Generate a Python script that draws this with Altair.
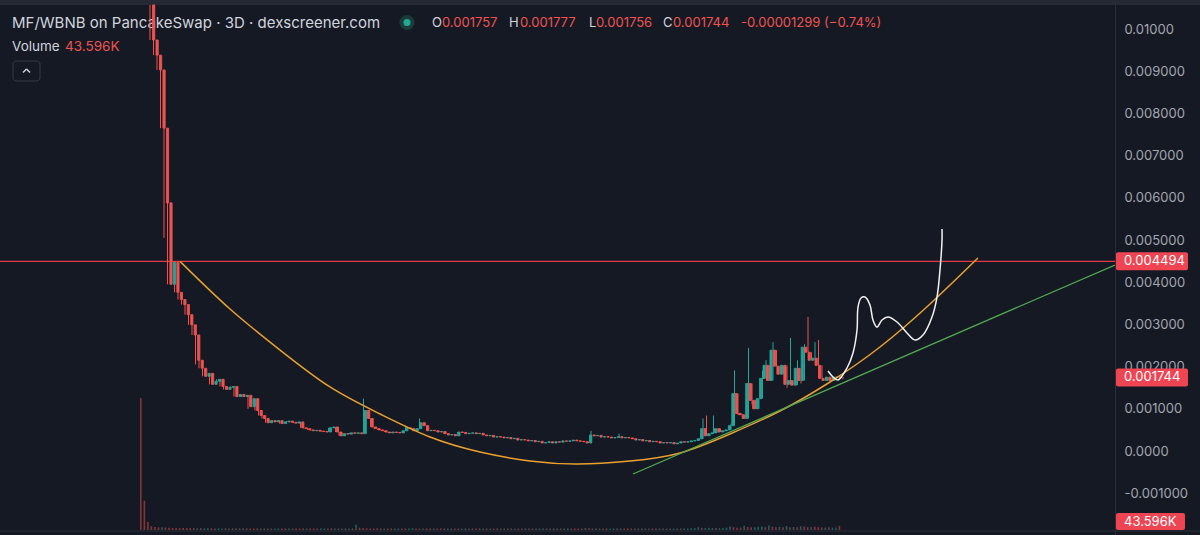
import altair as alt
import pandas as pd

# ---------------- data ----------------
closes = [0.00974, 0.00938, 0.00903, 0.00765, 0.00588, 0.00395, 0.00447, 0.00376, 0.00359, 0.00347,
          0.00323, 0.00299, 0.00275, 0.00215, 0.00196, 0.00177, 0.00184, 0.00158, 0.00165, 0.00170,
          0.00153, 0.00146, 0.00151, 0.00153, 0.00129, 0.00134, 0.00129, 0.00132, 0.00105, 0.00124,
          0.00096, 0.00084, 0.00077, 0.00067, 0.00072, 0.00069, 0.00072, 0.00065, 0.00069, 0.00071,
          0.00068, 0.00066, 0.00069, 0.00055, 0.00053, 0.00050, 0.00048, 0.00049, 0.00047, 0.00046,
          0.00045, 0.00055, 0.00057, 0.00045, 0.00036, 0.00041, 0.00040, 0.00043, 0.00042, 0.00043,
          0.00041, 0.00096, 0.00077, 0.00057, 0.00053, 0.00050, 0.00048, 0.00045, 0.00043, 0.00045,
          0.00044, 0.00043, 0.00048, 0.00055, 0.00053, 0.00048, 0.00053, 0.00067, 0.00060, 0.00048,
          0.00049, 0.00048, 0.00045, 0.00046, 0.00041, 0.00038, 0.00039, 0.00036, 0.00045, 0.00044,
          0.00041, 0.00042, 0.00043, 0.00041, 0.00042, 0.00038, 0.00036, 0.00037, 0.00033, 0.00034,
          0.00033, 0.00031, 0.00032, 0.00029, 0.00030, 0.00026, 0.00027, 0.00026, 0.00024, 0.00025,
          0.00022, 0.00023, 0.00019, 0.00020, 0.00022, 0.00019, 0.00022, 0.00021, 0.00024, 0.00023,
          0.00024, 0.00026, 0.00024, 0.00023, 0.00022, 0.00019, 0.00038, 0.00036, 0.00037, 0.00033,
          0.00034, 0.00033, 0.00031, 0.00032, 0.00034, 0.00031, 0.00032, 0.00031, 0.00029, 0.00026,
          0.00027, 0.00024, 0.00025, 0.00022, 0.00023, 0.00022, 0.00019, 0.00020, 0.00019, 0.00020,
          0.00017, 0.00019, 0.00022, 0.00021, 0.00022, 0.00024, 0.00025, 0.00029, 0.00053, 0.00036,
          0.00041, 0.00043, 0.00053, 0.00045, 0.00048, 0.00050, 0.00060, 0.00136, 0.00089, 0.00086,
          0.00077, 0.00160, 0.00120, 0.00100, 0.00124, 0.00172, 0.00203, 0.00167, 0.00239, 0.00201,
          0.00182, 0.00203, 0.00158, 0.00167, 0.00156, 0.00196, 0.00167, 0.00246, 0.00234, 0.00215,
          0.00220, 0.00203, 0.00172, 0.00167, 0.00175, 0.00167, 0.00175, 0.001757, 0.001744]
first_open = 0.01057

wick_high = {0: 0.01057, 6: 0.00449, 7: 0.004494, 61: 0.00124, 73: 0.00060, 77: 0.00077,
             126: 0.00048, 134: 0.00041, 158: 0.00077, 159: 0.00084, 161: 0.00084, 166: 0.00065,
             167: 0.00191, 171: 0.00244, 175: 0.00190, 176: 0.00215, 178: 0.00258, 183: 0.00268,
             185: 0.00215, 187: 0.00253, 188: 0.00318, 190: 0.00258, 191: 0.00263, 197: 0.001777}
wick_low = {4: 0.00505, 13: 0.00205, 28: 0.00100, 168: 0.00085, 172: 0.00110, 182: 0.00150,
            186: 0.00160, 198: 0.00170}

volumes_k = [1400, 310, 85, 40, 32, 28, 30, 26, 24, 22,
             22, 20, 21, 20, 19, 20, 18, 19, 18, 18,
             18, 17, 18, 17, 18, 17, 17, 18, 17, 18,
             17, 17, 16, 17, 16, 17, 16, 16, 17, 16,
             16, 17, 16, 16, 17, 16, 16, 16, 17, 16,
             16, 17, 16, 16, 17, 16, 16, 17, 16, 16,
             17, 55, 25, 20, 18, 17, 16, 17, 16, 16,
             16, 17, 16, 16, 17, 16, 17, 20, 17, 16,
             16, 17, 16, 16, 16, 17, 16, 16, 16, 17,
             16, 16, 17, 16, 16, 16, 17, 16, 16, 16,
             16, 17, 16, 16, 16, 17, 16, 16, 16, 17,
             16, 16, 16, 17, 16, 16, 16, 17, 16, 16,
             16, 17, 16, 16, 16, 17, 22, 18, 17, 16,
             16, 17, 16, 16, 17, 16, 16, 16, 17, 16,
             16, 16, 17, 16, 16, 16, 17, 16, 16, 16,
             17, 16, 16, 16, 17, 16, 18, 20, 30, 25,
             22, 24, 20, 21, 20, 22, 25, 38, 30, 24,
             25, 45, 32, 28, 30, 35, 38, 30, 48, 36,
             30, 34, 28, 42, 30, 32, 28, 40, 38, 30,
             32, 36, 30, 28, 26, 28, 25, 26, 43.596]

hline_price = 0.004494
last_price = 0.001744

orange_idx = [8.57, 22.86, 37.14, 51.43, 65.71, 80.0, 94.29, 108.57, 122.29, 137.14,
              151.43, 165.71, 180.0, 194.29, 208.57, 222.86, 236.57]
orange_price = [0.004494, 0.003365, 0.002393, 0.001517, 0.000877, 0.000332, -0.000024, -0.000237,
                -0.000308, -0.000237, -0.000047, 0.000403, 0.000948, 0.001635, 0.002464, 0.003483,
                0.004573]

green_idx = [138.0, 275.71]
green_price = [-0.000545, 0.004408]

white_idx = [193.71, 195.14, 196.57, 199.14, 200.86, 202.0, 202.29, 203.14, 204.29, 205.71,
             206.57, 207.71, 209.14, 210.86, 213.43, 216.29, 218.57, 220.86, 223.43, 224.86,
             225.71, 226.29, 226.29]
white_price = [0.001896, 0.001754, 0.001682, 0.001967, 0.002322, 0.002867, 0.003412, 0.003626,
               0.003649, 0.003460, 0.003104, 0.002938, 0.003104, 0.003175, 0.003057, 0.002796,
               0.002630, 0.002749, 0.003175, 0.003649, 0.004289, 0.005000, 0.005261]

axis_values = [0.01, 0.009, 0.008, 0.007, 0.006, 0.005, 0.004, 0.003, 0.002, 0.001, 0.0, -0.001]

# ---------------- style ----------------
BG = "#151924"
UP = "#26a69a"
DOWN = "#ef5350"
BOX = "#ef4452"
GRID = "#2a2e39"
TXT = "#d1d4dc"
AX = "#a3a6af"
FONT = "Inter"

W, H = 1115, 525
XMIN, XMAX = -42.857, 275.714
YMIN, YMAX = -0.001872, 0.010569
VOLMAX = 5568

xs = alt.Scale(domain=[XMIN, XMAX], nice=False, zero=False)
ys = alt.Scale(domain=[YMIN, YMAX], nice=False, zero=False)


def colr(ch=alt.Color):
    return ch("d:N", scale=alt.Scale(domain=["up", "down"], range=[UP, DOWN]), legend=None)


opens = [first_open] + closes[:-1]
rows = []
for i, c in enumerate(closes):
    o = opens[i]
    hi = max(o, c, wick_high.get(i, c))
    lo = min(o, c, wick_low.get(i, c))
    rows.append(dict(i=i, o=o, c=c, hi=hi, lo=lo, d="up" if c >= o else "down", vol=volumes_k[i]))
df = pd.DataFrame(rows)

base = alt.Chart(df)

yaxis = alt.Axis(orient="right", values=axis_values, ticks=False, grid=False, domain=False,
                 labelColor=AX, labelFontSize=13, labelFont=FONT, labelPadding=9,
                 labelOverlap=False, labelFlush=False, title=None,
                 labelExpr="datum.value == 0 ? '0.0000' : (datum.value > 0.0095 ? '0.01000' : "
                           "(datum.value < 0 ? '-' + format(-datum.value, '.6f') : format(datum.value, '.6f')))")

volume = base.transform_calculate(vx="datum.i * 1.0172 - 3.7").mark_bar(size=1.6, opacity=0.5).encode(
    x=alt.X("vx:Q", scale=xs, axis=None),
    y=alt.Y("vol:Q", scale=alt.Scale(domain=[0, VOLMAX], nice=False, zero=True), axis=None, stack=None),
    color=colr(),
)

wicks = base.mark_rule(strokeWidth=1).encode(
    x=alt.X("i:Q", scale=xs, axis=None),
    y=alt.Y("lo:Q", scale=ys, axis=yaxis),
    y2="hi:Q",
    color=colr(),
)

bodies = base.mark_bar(size=2.2, strokeWidth=0.9).encode(
    x=alt.X("i:Q", scale=xs, axis=None),
    y=alt.Y("o:Q", scale=ys, axis=None),
    y2="c:Q",
    color=colr(),
    stroke=colr(alt.Stroke),
)

hline = alt.Chart(pd.DataFrame({"p": [hline_price]})).mark_rule(color="#e23a48", strokeWidth=1.3).encode(
    y=alt.Y("p:Q", scale=ys, axis=None), x=alt.value(0), x2=alt.value(W))

orange = alt.Chart(pd.DataFrame({"x": orange_idx, "p": orange_price, "k": range(len(orange_idx))})).mark_line(
    color="#eaa02f", strokeWidth=1.5, interpolate="natural", clip=True).encode(
    x=alt.X("x:Q", scale=xs, axis=None), y=alt.Y("p:Q", scale=ys, axis=None), order="k:Q")

green = alt.Chart(pd.DataFrame({"x": green_idx, "p": green_price})).mark_line(
    color="#52a852", strokeWidth=1.3, clip=True).encode(
    x=alt.X("x:Q", scale=xs, axis=None), y=alt.Y("p:Q", scale=ys, axis=None))

white = alt.Chart(pd.DataFrame({"x": white_idx, "p": white_price, "k": range(len(white_idx))})).mark_line(
    color="#f2f2f2", strokeWidth=1.5, interpolate="catmull-rom", clip=True).encode(
    x=alt.X("x:Q", scale=xs, axis=None), y=alt.Y("p:Q", scale=ys, axis=None), order="k:Q")

box_df = pd.DataFrame({"p": [hline_price, last_price], "t": ["0.004494", "0.001744"]})
boxes = alt.Chart(box_df).mark_rect(color=BOX, yOffset=-9, y2Offset=9, cornerRadius=2).encode(
    y=alt.Y("p:Q", scale=ys, axis=None), y2="p:Q", x=alt.value(W + 1), x2=alt.value(W + 73))
box_txt = alt.Chart(box_df).mark_text(align="left", baseline="middle", color="white",
                                      fontSize=13, font=FONT).encode(
    y=alt.Y("p:Q", scale=ys, axis=None), x=alt.value(W + 9), text="t:N")

vol_box = alt.Chart(pd.DataFrame({"t": ["43.596K"]})).mark_rect(color=BOX, cornerRadius=2).encode(
    x=alt.value(W + 1), x2=alt.value(W + 70), y=alt.value(508), y2=alt.value(525))
vol_box_txt = alt.Chart(pd.DataFrame({"t": ["43.596K"]})).mark_text(
    align="left", baseline="middle", color="white", fontSize=13, font=FONT).encode(
    x=alt.value(W + 9), y=alt.value(516.5), text="t:N")

# frame pieces
top_strip = alt.Chart(pd.DataFrame({"a": [0]})).mark_rect(color="#252933").encode(
    x=alt.value(0), x2=alt.value(1200), y=alt.value(-5), y2=alt.value(0))
sep = alt.Chart(pd.DataFrame({"a": [0]})).mark_rule(color=GRID, strokeWidth=1).encode(
    x=alt.value(W + 0.5), y=alt.value(-5), y2=alt.value(530))
bottom = alt.Chart(pd.DataFrame({"a": [0]})).mark_rule(color=GRID, strokeWidth=1).encode(
    x=alt.value(0), x2=alt.value(1200), y=alt.value(526))

# header
hdr = pd.DataFrame([
    dict(px=12, py=17.5, t="MF/WBNB on PancakeSwap · 3D · dexscreener.com", col=TXT, fs=15),
    dict(px=432, py=17.5, t="O", col=TXT, fs=13),
    dict(px=442, py=17.5, t="0.001757", col=DOWN, fs=13),
    dict(px=509, py=17.5, t="H", col=TXT, fs=13),
    dict(px=520, py=17.5, t="0.001777", col=DOWN, fs=13),
    dict(px=589, py=17.5, t="L", col=TXT, fs=13),
    dict(px=596, py=17.5, t="0.001756", col=DOWN, fs=13),
    dict(px=663, py=17.5, t="C", col=TXT, fs=13),
    dict(px=673, py=17.5, t="0.001744", col=DOWN, fs=13),
    dict(px=741, py=17.5, t="-0.00001299 (−0.74%)", col=DOWN, fs=13),
    dict(px=12, py=41.5, t="Volume", col=TXT, fs=13.5),
    dict(px=65, py=41.5, t="43.596K", col=DOWN, fs=13.5),
])
header = alt.Chart(hdr).mark_text(align="left", baseline="middle", font=FONT).encode(
    x=alt.X("px:Q", scale=None, axis=None),
    y=alt.Y("py:Q", scale=None, axis=None),
    text="t:N",
    color=alt.Color("col:N", scale=None),
    size=alt.Size("fs:Q", scale=None),
)
halo = alt.Chart(pd.DataFrame({"a": [0]})).mark_circle(color="#1d3b3b", opacity=1, size=230).encode(
    x=alt.value(407), y=alt.value(17.5))
dot = alt.Chart(pd.DataFrame({"a": [0]})).mark_circle(color="#22ab94", opacity=1, size=50).encode(
    x=alt.value(407), y=alt.value(17.5))
btn = alt.Chart(pd.DataFrame({"a": [0]})).mark_rect(
    fillOpacity=0, stroke="#363a45", strokeWidth=1, cornerRadius=3).encode(
    x=alt.value(13), x2=alt.value(40), y=alt.value(56), y2=alt.value(76))
chev1 = alt.Chart(pd.DataFrame({"a": [0]})).mark_rule(color=TXT, strokeWidth=1.5).encode(
    x=alt.value(23), x2=alt.value(26.5), y=alt.value(67.5), y2=alt.value(64))
chev2 = alt.Chart(pd.DataFrame({"a": [0]})).mark_rule(color=TXT, strokeWidth=1.5).encode(
    x=alt.value(26.5), x2=alt.value(30), y=alt.value(64), y2=alt.value(67.5))

chart = alt.layer(
    top_strip, header, halo, dot, btn, chev1, chev2,
    volume, hline, wicks, bodies, orange, green, white,
    sep, bottom, boxes, box_txt, vol_box, vol_box_txt,
).resolve_scale(
    x="independent", y="independent", color="independent", size="independent", stroke="independent"
).properties(
    width=W, height=H,
    padding={"left": 0, "top": 5, "right": 85, "bottom": 5},
    autosize="none",
    background=BG,
).configure_view(stroke=None, fill=BG)

chart.save("out.html", embed_options={"renderer": "svg", "actions": False})
